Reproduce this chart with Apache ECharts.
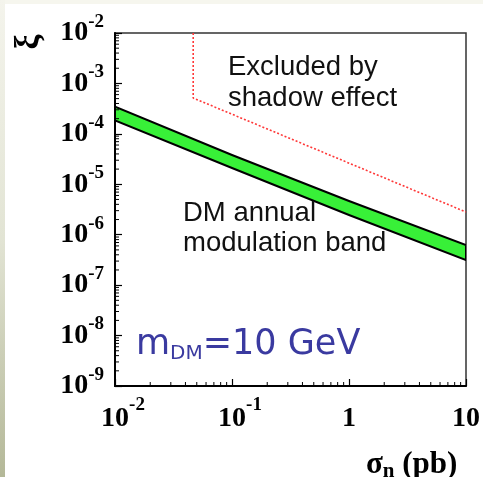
<!DOCTYPE html>
<html><head><meta charset="utf-8">
<script src="https://cdn.jsdelivr.net/npm/echarts@6/dist/echarts.min.js"></script>
<style>html,body{margin:0;padding:0;background:#fff}#c{width:483px;height:477px}</style>
</head><body><div id="c"></div>
<script>
// ---- data ----
const bandX = [0.01, 0.1, 1, 10];
const bandUpper = [3.46e-4, 3.8e-5, 4.67e-6, 6.25e-7];
const bandLower = [1.84e-4, 2.1e-5, 2.46e-6, 3.15e-7];
const shadowX = [0.0466, 0.0466, 10];
const shadowY = [1e-2, 5.14e-4, 2.82e-6];
const xMin = 0.01, xMax = 10, yMin = 1e-9, yMax = 1e-2;
const xTitle = ['σ', 'n', ' (pb)'];
const yTitle = 'ξ';
const shadowText = 'Excluded by\nshadow effect';
const bandText = 'DM annual\nmodulation band';
const massText = ['m', 'DM', '=10 GeV'];

// minor tick positions (axis structure)
function minors(lo, hi) {
  const out = [];
  for (let e = Math.round(Math.log10(lo)); e < Math.round(Math.log10(hi)); e++)
    for (let k = 2; k <= 9; k++) out.push(k * Math.pow(10, e));
  return out;
}
const yMinor = minors(yMin, yMax);
const xMinor = minors(xMin, xMax);

function expOf(v) { return Math.round(Math.log10(v)); }

const chart = echarts.init(document.getElementById('c'));
const serif = '"Liberation Serif", "Times New Roman", serif';
const sans = '"Liberation Sans", Arial, sans-serif';

chart.setOption({
  backgroundColor: '#fff',
  animation: false,
  grid: { left: 115, top: 33, right: 13, bottom: 91, show: true, borderColor: '#333', borderWidth: 1.5, backgroundColor: 'transparent' },
  xAxis: {
    type: 'log', logBase: 10, min: xMin, max: xMax, interval: 1,
    axisLine: { lineStyle: { color: '#000', width: 2 } },
    axisTick: { inside: true, length: 7, lineStyle: { color: '#000', width: 1.2 } },
    splitLine: { show: false },
    axisLabel: {
      margin: 11,
      formatter: v => { const e = expOf(v); return e < 0 ? '{bx|10}{s|' + e + '}' : '{b|' + Math.pow(10, e) + '}'; },
      rich: {
        b: { fontFamily: serif, fontWeight: 'bold', fontSize: 28, lineHeight: 44, color: '#000' },
        bx: { fontFamily: serif, fontWeight: 'bold', fontSize: 28, lineHeight: 44, color: '#000', padding: [0, 0, 0, 16] },
        s: { fontFamily: serif, fontWeight: 'bold', fontSize: 19, lineHeight: 19, color: '#000', padding: [0, 0, 28, 0] }
      }
    }
  },
  yAxis: {
    type: 'log', logBase: 10, min: yMin, max: yMax, interval: 1,
    axisLine: { lineStyle: { color: '#000', width: 2 } },
    axisTick: { inside: true, length: 7, lineStyle: { color: '#000', width: 1.2 } },
    splitLine: { show: false },
    axisLabel: {
      margin: 11,
      formatter: v => '{b|10}{s|' + expOf(v) + '}',
      rich: {
        b: { fontFamily: serif, fontWeight: 'bold', fontSize: 28, lineHeight: 44, color: '#000' },
        s: { fontFamily: serif, fontWeight: 'bold', fontSize: 19, lineHeight: 19, color: '#000', padding: [0, 0, 22, 0] }
      }
    }
  },
  series: [
    {
      type: 'custom', name: 'band', clip: true, z: 3,
      data: [[bandX[0], bandUpper[0]]],
      renderItem: (params, api) => {
        const pts = [];
        for (let i = 0; i < bandX.length; i++) pts.push(api.coord([bandX[i], bandUpper[i]]));
        for (let i = bandX.length - 1; i >= 0; i--) pts.push(api.coord([bandX[i], bandLower[i]]));
        return { type: 'polygon', shape: { points: pts }, style: { fill: '#38f038', stroke: '#000', lineWidth: 2, lineJoin: 'round' } };
      }
    },
    {
      type: 'line', name: 'shadow', symbol: 'none', z: 2,
      data: shadowX.map((x, i) => [x, shadowY[i]]),
      lineStyle: { color: '#ff3838', width: 1.6, type: [2, 2] }
    },
    {
      type: 'custom', name: 'yMinor', clip: false, z: 4,
      data: yMinor.map(v => [xMin, v]),
      renderItem: (params, api) => {
        const p = api.coord([api.value(0), api.value(1)]);
        return { type: 'line', shape: { x1: p[0], y1: p[1], x2: p[0] + 4, y2: p[1] }, style: { stroke: '#000', lineWidth: 1 } };
      }
    },
    {
      type: 'custom', name: 'xMinor', clip: false, z: 4,
      data: xMinor.map(v => [v, yMin]),
      renderItem: (params, api) => {
        const p = api.coord([api.value(0), api.value(1)]);
        return { type: 'line', shape: { x1: p[0], y1: p[1], x2: p[0], y2: p[1] - 4 }, style: { stroke: '#000', lineWidth: 1 } };
      }
    }
  ],
  graphic: [
    { type: 'rect', left: 0, top: 0, shape: { width: 483, height: 4 }, style: { fill: '#f6f6ee' }, z: 0 },
    { type: 'rect', left: 0, top: 0, shape: { width: 5, height: 477 },
      style: { fill: new echarts.graphic.LinearGradient(0, 0, 0, 1, [{ offset: 0, color: '#f4f4ec' }, { offset: 0.5, color: '#e2e4d4' }, { offset: 1, color: '#b4b898' }]) }, z: 0 },
    { type: 'text', x: 29, y: 42, rotation: Math.PI / 2, z: 10,
      style: { text: yTitle, fontSize: 34, fontWeight: 'bold', fontFamily: serif, fill: '#000', align: 'center', verticalAlign: 'middle' } },
    { type: 'text', x: 366, y: 465, z: 10,
      style: { text: '{a|' + xTitle[0] + '}{n|' + xTitle[1] + '}{a|' + xTitle[2] + '}', verticalAlign: 'middle',
        rich: {
          a: { fontFamily: serif, fontWeight: 'bold', fontSize: 31, lineHeight: 31, fill: '#000' },
          n: { fontFamily: serif, fontWeight: 'bold', fontSize: 21, lineHeight: 21, fill: '#000', padding: [14, 0, 0, 0] }
        } } },
    { type: 'text', x: 228, y: 52, z: 10,
      style: { text: shadowText, font: '27.5px ' + sans, fill: '#111', lineHeight: 31, verticalAlign: 'top' } },
    { type: 'text', x: 183, y: 198, z: 10,
      style: { text: bandText, font: '27.5px ' + sans, fill: '#111', lineHeight: 30, verticalAlign: 'top' } },
    { type: 'text', x: 136, y: 345, z: 10,
      style: { text: '{m|' + massText[0] + '}{d|' + massText[1] + '}{m|' + massText[2] + '}', verticalAlign: 'middle',
        rich: {
          m: { fontFamily: '"DejaVu Sans", sans-serif', fontSize: 35, lineHeight: 38, fill: '#3a3aa0' },
          d: { fontFamily: '"DejaVu Sans", sans-serif', fontSize: 20, lineHeight: 20, fill: '#3a3aa0', padding: [17, 0, 0, 0] }
        } } }
  ]
});
</script>
</body></html>
